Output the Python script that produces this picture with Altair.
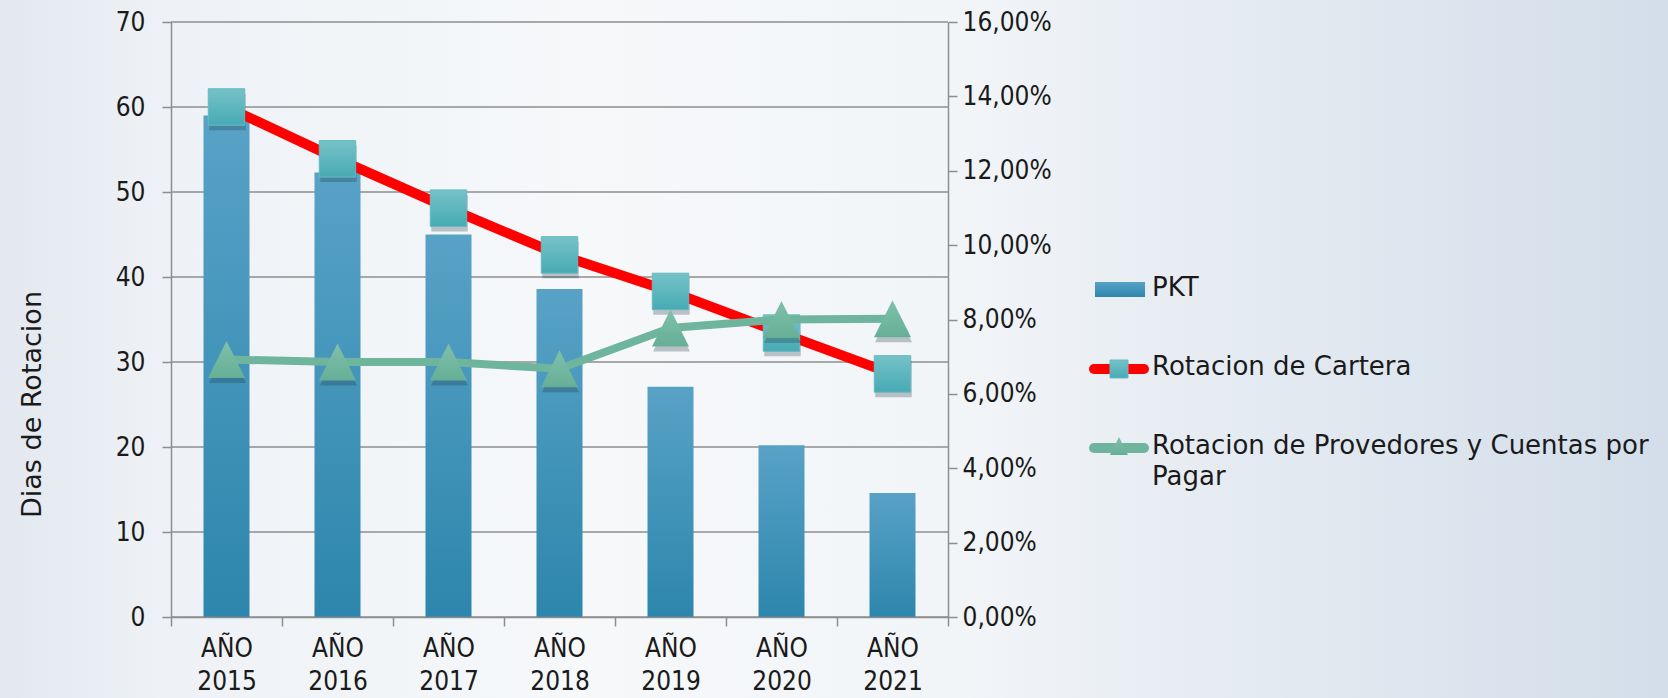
import altair as alt
import pandas as pd

# ---------------- data ----------------
years = ["AÑO 2015", "AÑO 2016", "AÑO 2017", "AÑO 2018", "AÑO 2019", "AÑO 2020", "AÑO 2021"]
pkt = [59.0, 52.3, 45.0, 38.6, 27.1, 20.2, 14.6]
cartera = [60.0, 53.9, 48.1, 42.6, 38.3, 33.4, 28.6]
provedores = [30.3, 30.0, 30.0, 29.2, 34.0, 35.0, 35.1]
left_ticks = [0, 10, 20, 30, 40, 50, 60, 70]
pct_ticks = [0.0, 0.02, 0.04, 0.06, 0.08, 0.10, 0.12, 0.14, 0.16]
series_names = ["PKT", "Rotacion de Cartera", "Rotacion de Provedores y Cuentas por Pagar"]
y_title = "Dias de Rotacion"

df = pd.DataFrame({"year": years, "pkt": pkt, "cartera": cartera, "prov": provedores})

# ---------------- styles ----------------
W, H = 777, 595
PAD_L, PAD_T = 171, 22
TOTAL_W, TOTAL_H = 1668, 698
LABEL_FONT = "DejaVu Sans Condensed"
TEXT_FONT = "DejaVu Sans"
GRAY = "#8e8e8e"
TXT = "#1a1a1a"
RED = "#ff0000"
GREEN = "#6fb59d"
TRI = "M0,-1L1,1L-1,1Z"


def grad(c1, c2, vertical=True):
    return alt.Gradient(
        gradient="linear",
        stops=[alt.GradientStop(color=c1, offset=0), alt.GradientStop(color=c2, offset=1)],
        x1=0, x2=0 if vertical else 1, y1=0, y2=1 if vertical else 0,
    )


bar_grad = grad("#58a2c6", "#2d86ad")
sq_grad = grad("#76c2c8", "#47aab4")
tri_grad = grad("#80c0aa", "#66af96")

bg_grad = alt.Gradient(
    gradient="linear",
    stops=[
        alt.GradientStop(color="#e3e8f0", offset=0),
        alt.GradientStop(color="#eef2f6", offset=0.1),
        alt.GradientStop(color="#f6f8fa", offset=0.35),
        alt.GradientStop(color="#f2f5f8", offset=0.57),
        alt.GradientStop(color="#e8edf3", offset=0.7),
        alt.GradientStop(color="#d3deea", offset=1),
    ],
    x1=0, x2=1, y1=0, y2=0,
)

x_enc = alt.X(
    "year:N", sort=years, title=None,
    scale=alt.Scale(paddingInner=0, paddingOuter=0),
    axis=alt.Axis(
        labelExpr="datum.label ? split(datum.label, ' ') : ''", tickBand="extent", tickSize=9,
        labelPadding=9, labelLineHeight=33, labelAngle=0, grid=False,
        labelBaseline="top", zindex=2,
    ),
)

y_scale = alt.Scale(domain=[0, 70], nice=False, zero=True)
y_axis = alt.Axis(
    values=left_ticks, grid=False, tickSize=9, labelPadding=17, zindex=2,
    titleX=32 - PAD_L, titleY=404 - PAD_T, titleAngle=270,
    titleAlign="center", titleBaseline="middle",
    titleFont=TEXT_FONT, titleFontSize=27, titleFontWeight="normal", titleColor=TXT,
)


def yl(field):
    return alt.Y(f"{field}:Q", scale=y_scale, axis=y_axis, title=y_title)


base = alt.Chart(df)

grid = alt.Chart(pd.DataFrame({"t": left_ticks})).mark_rule(
    color=GRAY, strokeWidth=1.5).encode(x=alt.value(0), x2=alt.value(W), y=yl("t"))

bars = base.mark_bar(size=46, color=bar_grad).encode(x=x_enc, y=yl("pkt"))

red_line = base.mark_line(color=RED, strokeWidth=10).encode(x=x_enc, y=yl("cartera"))
sq_shadow = base.mark_point(shape="square", size=1330, filled=True, color="#1d3544",
                            opacity=0.28, yOffset=5, xOffset=1).encode(x=x_enc, y=yl("cartera"))
squares = base.mark_point(shape="square", size=1330, filled=True, fill=sq_grad,
                          stroke="#64bac1", strokeWidth=1, opacity=1).encode(x=x_enc, y=yl("cartera"))

green_line = base.mark_line(color=GREEN, strokeWidth=8).encode(x=x_enc, y=yl("prov"))
tri_shadow = base.mark_point(shape=TRI, size=1369, filled=True, color="#1d3544",
                             opacity=0.28, yOffset=5, xOffset=1).encode(x=x_enc, y=yl("prov"))
triangles = base.mark_point(shape=TRI, size=1369, filled=True, fill=tri_grad,
                            opacity=1).encode(x=x_enc, y=yl("prov"))

left = alt.layer(grid, bars, red_line, sq_shadow, squares, green_line, tri_shadow, triangles)

right = alt.Chart(pd.DataFrame({"v": pct_ticks})).mark_point(opacity=0).encode(
    y=alt.Y("v:Q", scale=alt.Scale(domain=[0, 0.16], nice=False),
            axis=alt.Axis(orient="right", values=pct_ticks, grid=False, tickSize=9,
                          labelPadding=5, title=None, zindex=2,
                          labelExpr="replace(format(datum.value, '.2%'), '.', ',')"))
)

plot = alt.layer(left, right).resolve_scale(y="independent")

# ---------------- background ----------------
one = pd.DataFrame({"k": [0]})
bg = alt.Chart(one).mark_rect(color=bg_grad).encode(
    x=alt.value(-PAD_L), x2=alt.value(TOTAL_W - PAD_L),
    y=alt.value(-PAD_T), y2=alt.value(TOTAL_H - PAD_T),
)

# ---------------- legend ----------------
LX_TEXT = 1152 - PAD_L
LX0, LX1 = 1089 - PAD_L, 1149 - PAD_L
LXC = (LX0 + LX1) / 2
ly = [290 - PAD_T, 369 - PAD_T, 448 - PAD_T]

leg_layers = []
leg_layers.append(alt.Chart(one).mark_rect(color=bar_grad).encode(
    x=alt.value(1095 - PAD_L), x2=alt.value(1145 - PAD_L),
    y=alt.value(ly[0] - 8), y2=alt.value(ly[0] + 7)))
leg_layers.append(alt.Chart(one).mark_rule(color=RED, strokeWidth=10, strokeCap="round").encode(
    x=alt.value(LX0 + 5), x2=alt.value(LX1 - 5), y=alt.value(ly[1])))
leg_layers.append(alt.Chart(one).mark_point(shape="square", size=324, filled=True, fill=sq_grad,
                                            stroke="#64bac1", strokeWidth=1, opacity=1).encode(
    x=alt.value(LXC), y=alt.value(ly[1])))
leg_layers.append(alt.Chart(one).mark_rule(color=GREEN, strokeWidth=10, strokeCap="round").encode(
    x=alt.value(LX0 + 5), x2=alt.value(LX1 - 5), y=alt.value(ly[2])))
leg_layers.append(alt.Chart(one).mark_point(shape=TRI, size=324, filled=True, fill=tri_grad,
                                            opacity=1).encode(
    x=alt.value(LXC), y=alt.value(ly[2] - 2)))

for i, name in enumerate(series_names):
    words = name.split(" ")
    if len(name) > 30:
        label = " ".join(words[:-1]) + "\n" + words[-1]
    else:
        label = name
    leg_layers.append(alt.Chart(one).mark_text(
        align="left", baseline="top", font=TEXT_FONT, fontSize=26, color=TXT,
        lineBreak="\n", lineHeight=31,
    ).encode(x=alt.value(LX_TEXT), y=alt.value(ly[i] - 15), text=alt.value(label)))

chart = alt.layer(bg, plot, *leg_layers).properties(
    width=W, height=H,
    autosize=alt.AutoSizeParams(type="none"),
    padding={"left": PAD_L, "top": PAD_T, "right": TOTAL_W - PAD_L - W, "bottom": TOTAL_H - PAD_T - H},
    background="#eef2f6",
).configure_view(stroke=None).configure_axis(
    domainColor=GRAY, tickColor=GRAY, gridColor=GRAY,
    domainWidth=1.5, tickWidth=1.5, gridWidth=1.5,
    labelColor=TXT, labelFont=LABEL_FONT, labelFontSize=26,
)

chart.save("out.html", embed_options={"renderer": "svg", "actions": False})
